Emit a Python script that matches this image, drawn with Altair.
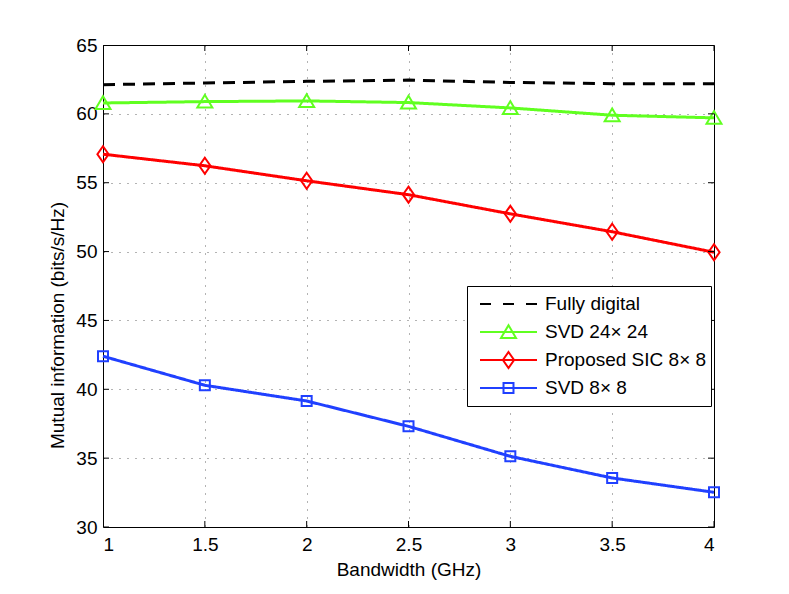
import altair as alt
import pandas as pd

# ---- data ----
bandwidth = [1, 1.5, 2, 2.5, 3, 3.5, 4]
fully_digital = [62.12, 62.24, 62.36, 62.45, 62.28, 62.19, 62.19]
svd_24 = [60.79, 60.89, 60.94, 60.82, 60.43, 59.90, 59.71]
sic_8 = [57.07, 56.23, 55.14, 54.13, 52.74, 51.44, 49.95]
svd_8 = [42.40, 40.29, 39.15, 37.31, 35.13, 33.56, 32.52]
names = ["Fully digital", "SVD 24\u00d7 24", "Proposed SIC 8\u00d7 8", "SVD 8\u00d7 8"]
styles = ["dashed", "solid", "solid", "solid"]
y_ticks = [30, 35, 40, 45, 50, 55, 60, 65]
x_range = [1, 4]
y_range = [30, 65]

colors = ["#000000", "#60ff20", "#ff0000", "#2040ff"]

rows = []
for name, sty, vals in zip(names, styles, [fully_digital, svd_24, sic_8, svd_8]):
    for b, v in zip(bandwidth, vals):
        rows.append({"bw": b, "mi": v, "series": name, "style": sty})
df = pd.DataFrame(rows)

# inward tick marks on all four sides of the box (from the tick values)
xt = pd.DataFrame([{"bw": b, "mi": e} for b in bandwidth for e in y_range])
yt = pd.DataFrame([{"bw": e, "mi": t} for t in y_ticks for e in x_range])

FONT = "Liberation Sans"
FS = 19
xs = alt.Scale(domain=x_range, nice=False, zero=False)
ys = alt.Scale(domain=y_range, nice=False, zero=False)
color_scale = alt.Scale(domain=names, range=colors)

# marker shapes (custom symbol paths)
tri_path = "M-1,0.8L0,-0.9L1,0.8Z"
dia_path = "M0,-1L0.7,0L0,1L-0.7,0Z"
sq_path = "M-1,-1H1V1H-1Z"

# legend symbols: line segment + marker
legend_paths = [
    "M-1,0H-0.614M-0.193,0H0.193M0.614,0H1",
    "M-1,0H1M-0.263,0.21L0,-0.237L0.263,0.21Z",
    "M-1,0H1M0,-0.281L0.196,0L0,0.281L-0.196,0Z",
    "M-1,0H1M-0.175,-0.175H0.175V0.175H-0.175Z",
]

base = alt.Chart(df)

leg_common = dict(title=None, orient="none", legendX=364, legendY=241)
legend_layer = base.transform_filter("false").mark_point(
    filled=False, strokeWidth=2, opacity=1
).encode(
    color=alt.Color("series:N", scale=color_scale, legend=alt.Legend(**leg_common)),
    shape=alt.Shape("series:N", scale=alt.Scale(domain=names, range=legend_paths),
                    legend=alt.Legend(**leg_common)),
)

lines = base.mark_line(strokeWidth=3).encode(
    x=alt.X("bw:Q", scale=xs,
            axis=alt.Axis(values=bandwidth, format="~g", title="Bandwidth (GHz)",
                          grid=True, ticks=False, domain=False,
                          labelPadding=8, titlePadding=6)),
    y=alt.Y("mi:Q", scale=ys,
            axis=alt.Axis(values=y_ticks, format="~g",
                          title="Mutual information  (bits/s/Hz)",
                          grid=True, ticks=False, domain=False,
                          labelPadding=6, titlePadding=8,
                          titleAnchor="middle", titleY=280)),
    color=alt.Color("series:N", scale=color_scale, legend=None),
    strokeDash=alt.StrokeDash("style:N",
                              scale=alt.Scale(domain=["dashed", "solid"],
                                              range=[[12, 8], [1, 0]]),
                              legend=None),
    detail="series:N",
)


def markers(name, path, size):
    return base.transform_filter(alt.datum.series == name).mark_point(
        shape=path, size=size, filled=False, strokeWidth=2, opacity=1
    ).encode(
        x=alt.X("bw:Q", scale=xs),
        y=alt.Y("mi:Q", scale=ys),
        color=alt.Color("series:N", scale=color_scale, legend=None),
    )


m_tri = markers(names[1], tri_path, 225)
m_dia = markers(names[2], dia_path, 256)
m_sq = markers(names[3], sq_path, 100)

x_ticks_layer = alt.Chart(xt).mark_tick(
    orient="vertical", size=12, thickness=1, color="black", opacity=1, clip=True
).encode(x=alt.X("bw:Q", scale=xs), y=alt.Y("mi:Q", scale=ys))
y_ticks_layer = alt.Chart(yt).mark_tick(
    orient="horizontal", size=12, thickness=1, color="black", opacity=1, clip=True
).encode(x=alt.X("bw:Q", scale=xs), y=alt.Y("mi:Q", scale=ys))

chart = alt.layer(
    legend_layer, lines, m_tri, m_dia, m_sq, x_ticks_layer, y_ticks_layer
).properties(
    width=611, height=482,
    padding={"left": 95, "top": 37, "right": 67, "bottom": 59},
    autosize=alt.AutoSizeParams(type="none"),
    background="white",
).configure_view(
    stroke="black", strokeWidth=1
).configure_axis(
    labelFont=FONT, labelFontSize=FS, titleFont=FONT, titleFontSize=FS,
    titleFontWeight="normal", labelColor="black", titleColor="black",
    gridColor="black", gridDash=[1, 7], gridOpacity=0.6, gridWidth=1,
).configure_legend(
    labelFont=FONT, labelFontSize=FS, labelColor="black", labelLimit=0,
    symbolSize=3249, symbolStrokeWidth=2, clipHeight=28, rowPadding=0,
    labelOffset=7, symbolOffset=8, padding=4,
    strokeColor="black", fillColor="white", cornerRadius=0,
)

chart.save("out.html", embed_options={"renderer": "svg", "actions": False})
